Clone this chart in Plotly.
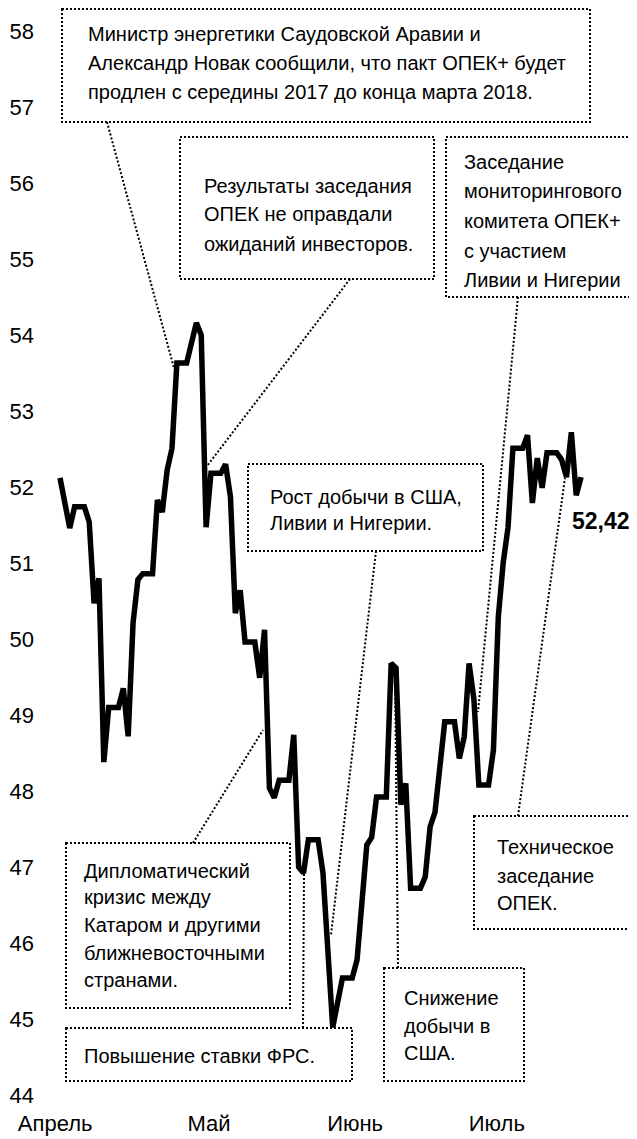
import plotly.graph_objects as go

# ---- data (calendar-day index from the first point, Brent price, USD) ----
days = [0, 2, 3, 5, 6, 7, 8, 9, 10, 12, 13, 14, 15, 16, 17, 19, 20, 21, 22, 23,
        24, 26, 28, 29, 30, 31, 33, 34, 35, 36, 37, 38, 40, 41, 42, 43, 44, 45, 47, 48,
        49, 50, 51, 53, 54, 56, 58, 60, 61, 63, 64, 65, 67, 68, 69, 70, 71, 72, 74, 75,
        76, 77, 79, 81, 82, 83, 84, 85, 86, 88, 89, 90, 91, 92, 93, 95, 96, 97, 98, 99,
        100, 102, 103, 104, 105, 106, 107]
prices = [52.12, 51.46, 51.74, 51.74, 51.54, 50.47, 50.80, 48.38, 49.10, 49.10,
          49.35, 48.72, 50.21, 50.78, 50.86, 50.86, 51.83, 51.67, 52.22, 52.51,
          53.63, 53.63, 54.16, 54.00, 51.47, 52.18, 52.18, 52.30, 51.87, 50.34,
          50.64, 49.96, 49.96, 49.49, 50.12, 48.04, 47.91, 48.14, 48.14, 48.74,
          47.00, 46.92, 47.36, 47.36, 46.92, 44.89, 45.54, 45.54, 45.78, 47.29,
          47.39, 47.92, 47.92, 49.68, 49.62, 47.82, 48.10, 46.72, 46.72, 46.87,
          47.53, 47.72, 48.91, 48.91, 48.43, 48.71, 49.68, 49.20, 48.08, 48.08,
          48.54, 50.29, 51.00, 51.47, 52.51, 52.51, 52.68, 51.79, 52.38, 51.99,
          52.45, 52.45, 52.36, 52.13, 52.72, 51.89, 52.13]
month_labels = ["Апрель", "Май", "Июнь", "Июль"]
month_ticks = [-1.0, 30.6, 60.6, 89.7]
y_ticks = list(range(44, 59))
last_label = "52,42"

notes = [
    ["Министр энергетики Саудовской Аравии и",
     "Александр Новак сообщили, что пакт ОПЕК+ будет",
     "продлен с середины 2017 до конца марта 2018."],
    ["Результаты заседания", "ОПЕК не оправдали", "ожиданий инвесторов."],
    ["Заседание", "мониторингового", "комитета ОПЕК+", "с участием", "Ливии и Нигерии"],
    ["Рост добычи в США,", "Ливии и Нигерии."],
    ["Дипломатический", "кризис между", "Катаром и другими", "ближневосточными", "странами."],
    ["Повышение ставки ФРС."],
    ["Снижение", "добычи в", "США."],
    ["Техническое", "заседание", "ОПЕК."],
]

# ---- layout geometry ----
PAGE_W, PAGE_H = 637, 1139
OFF = 8                      # default page margin around the plot div
W, H = PAGE_W - OFF, PAGE_H - OFF
ML, MT, MB = 27, 0, 35
PX0, PXD = 60.0, 4.87        # page pixel of day 0, pixels per day
PY44, PYU = 1095.0, 76.0     # page pixel of 44, pixels per dollar


def X(px):
    return (px - PX0) / PXD


def Y(py):
    return 44 + (PY44 - py) / PYU


boxes = [  # x0, x1, y0, y1 (page px), text x, line centres, connector (from -> to)
    dict(b=(62, 590, 9, 122), tx=86, ly=[34, 63, 92], c=((107, 122), (174, 368))),
    dict(b=(180, 434, 137, 279), tx=202, ly=[186, 214, 244], c=((350, 279), (207, 466))),
    dict(b=(446, 660, 137, 297), tx=462, ly=[162, 191, 221, 251, 280], c=((518, 297), (478, 712))),
    dict(b=(248, 483, 464, 551), tx=268, ly=[497, 523], c=((376, 551), (331, 935))),
    dict(b=(66, 290, 843, 1008), tx=82, ly=[871, 897, 925, 953, 980], c=((193, 843), (263, 730))),
    dict(b=(66, 352, 1028, 1081), tx=82, ly=[1056], c=((303, 1028), (304, 873))),
    dict(b=(384, 524, 968, 1081), tx=402, ly=[998, 1026, 1053], c=((398, 968), (395, 668))),
    dict(b=(474, 660, 816, 929), tx=495, ly=[847, 876, 903], c=((518, 816), (565, 478))),
]

FONT = "Liberation Sans, Arial, sans-serif"
DOT = dict(color="black", width=2, dash="2px,2px")

fig = go.Figure()
fig.add_trace(go.Scatter(x=days, y=prices, mode="lines",
                         line=dict(color="black", width=5.5),
                         hoverinfo="skip", showlegend=False))

shapes, annots = [], []
for bx, lines in zip(boxes, notes):
    x0, x1, y0, y1 = bx["b"]
    shapes.append(dict(type="rect", xref="x", yref="y",
                       x0=X(x0), x1=X(x1), y0=Y(y0), y1=Y(y1),
                       line=DOT, fillcolor="rgba(0,0,0,0)", layer="above"))
    (a, b) = bx["c"]
    shapes.append(dict(type="line", xref="x", yref="y",
                       x0=X(a[0]), y0=Y(a[1]), x1=X(b[0]), y1=Y(b[1]),
                       line=DOT, layer="above"))
    for txt, ly in zip(lines, bx["ly"]):
        annots.append(dict(x=X(bx["tx"]), y=Y(ly), xref="x", yref="y", text=txt,
                           showarrow=False, xanchor="left", yanchor="middle",
                           font=dict(family=FONT, size=20, color="black")))

annots.append(dict(x=X(632), y=Y(521), xref="x", yref="y",
                   text="<b>" + last_label + "</b>", showarrow=False,
                   xanchor="right", yanchor="middle",
                   font=dict(family=FONT, size=23, color="black")))

fig.update_layout(
    width=W, height=H,
    margin=dict(l=ML, r=0, t=MT, b=MB, pad=0),
    paper_bgcolor="white", plot_bgcolor="white",
    shapes=shapes, annotations=annots,
    font=dict(family=FONT, size=22, color="black"),
    xaxis=dict(range=[X(OFF + ML), X(PAGE_W)], tickvals=month_ticks,
               ticktext=month_labels, automargin=False, ticklabelstandoff=4,
               showgrid=False, zeroline=False, showline=False, ticks="",
               tickfont=dict(size=22)),
    yaxis=dict(range=[Y(PAGE_H - MB), Y(OFF + MT)], tickvals=y_ticks,
               automargin=False,
               showgrid=False, zeroline=False, showline=False, ticks="",
               tickfont=dict(size=22)),
)

fig.write_html("out.html")
